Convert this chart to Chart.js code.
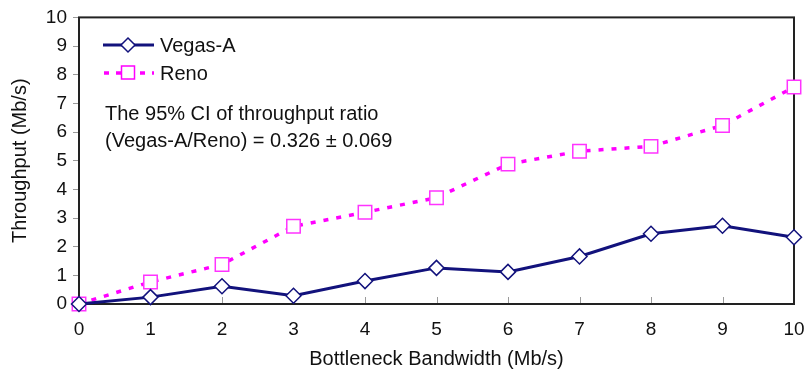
<!DOCTYPE html>
<html>
<head>
<meta charset="utf-8">
<script src="https://cdn.jsdelivr.net/npm/chart.js@4.4.0/dist/chart.umd.min.js"></script>
<style>
  html, body { margin: 0; padding: 0; background: #fff; }
  #wrap { width: 808px; height: 373px; }
</style>
</head>
<body>
<div id="wrap"><canvas id="tput_chart" width="808" height="373"></canvas></div>
<script>
// bandwidth (Mb/s) on the x axis
var bandwidth = [0, 1, 2, 3, 4, 5, 6, 7, 8, 9, 10];
// throughput (Mb/s)
var vegasA = [0, 0.24, 0.62, 0.29, 0.80, 1.26, 1.12, 1.66, 2.45, 2.73, 2.33];
var reno = [0, 0.77, 1.38, 2.71, 3.20, 3.71, 4.88, 5.33, 5.50, 6.23, 7.57];
var seriesNames = ['Vegas-A', 'Reno'];
var noteLines = ['The 95% CI of throughput ratio', '(Vegas-A/Reno) = 0.326 \u00b1 0.069'];

var NAVY = '#12127c';
var MAGENTA = '#ff00ff';
var FONT = "'Liberation Sans', Arial, sans-serif";

function toPoints(ys) {
    return bandwidth.map(function (x, i) { return { x: x, y: ys[i] }; });
}

// frame, inner x ticks, legend and the CI note
var framePlugin = {
    id: 'frame',
    beforeDatasetsDraw: function (chart) {
        var ctx = chart.ctx, a = chart.chartArea, xs = chart.scales.x;
        ctx.save();
        ctx.strokeStyle = '#9a9a9a';
        ctx.lineWidth = 1;
        bandwidth.forEach(function (v) {
            var px = Math.round(xs.getPixelForValue(v)) + 0.5;
            ctx.beginPath();
            ctx.moveTo(px, a.bottom);
            ctx.lineTo(px, a.bottom - 7);
            ctx.stroke();
        });
        ctx.strokeStyle = '#222';
        ctx.lineWidth = 2;
        ctx.strokeRect(a.left, a.top, a.right - a.left, a.bottom - a.top);
        ctx.restore();
    },
    afterDraw: function (chart) {
        var ctx = chart.ctx;
        ctx.save();
        // Vegas-A legend entry
        ctx.strokeStyle = NAVY;
        ctx.lineWidth = 3;
        ctx.beginPath();
        ctx.moveTo(103, 45);
        ctx.lineTo(154, 45);
        ctx.stroke();
        ctx.fillStyle = '#fff';
        ctx.lineWidth = 1.5;
        ctx.beginPath();
        ctx.moveTo(128, 38);
        ctx.lineTo(135, 45);
        ctx.lineTo(128, 52);
        ctx.lineTo(121, 45);
        ctx.closePath();
        ctx.fill();
        ctx.stroke();
        // Reno legend entry
        ctx.strokeStyle = MAGENTA;
        ctx.lineWidth = 3.5;
        ctx.setLineDash([5, 7]);
        ctx.beginPath();
        ctx.moveTo(104, 73);
        ctx.lineTo(154, 73);
        ctx.stroke();
        ctx.setLineDash([]);
        ctx.lineWidth = 1.5;
        ctx.fillStyle = '#fff';
        ctx.fillRect(121.5, 66, 13, 13);
        ctx.strokeRect(121.5, 66, 13, 13);

        ctx.fillStyle = '#111';
        ctx.font = '20px ' + FONT;
        ctx.textBaseline = 'middle';
        ctx.textAlign = 'left';
        ctx.fillText(seriesNames[0], 160, 46);
        ctx.fillText(seriesNames[1], 160, 74);
        ctx.fillText(noteLines[0], 105, 114);
        ctx.fillText(noteLines[1], 105, 141);
        ctx.restore();
    }
};

var ctx = document.getElementById('tput_chart').getContext('2d');

var tputChart = new Chart(ctx, {
    type: 'line',
    data: {
        datasets: [{
            label: seriesNames[0],
            data: toPoints(vegasA),
            borderColor: NAVY,
            borderWidth: 3,
            pointStyle: 'rectRot',
            pointRadius: 7.5,
            pointBorderWidth: 1.5,
            pointBackgroundColor: '#fff',
            pointBorderColor: NAVY,
            tension: 0,
            clip: false,
            order: 1
        }, {
            label: seriesNames[1],
            data: toPoints(reno),
            borderColor: MAGENTA,
            borderWidth: 3.5,
            borderDash: [5, 8],
            pointStyle: 'rect',
            pointRadius: 9.5,
            pointBorderWidth: 1.5,
            pointBackgroundColor: '#fff',
            pointBorderColor: '#ff33ff',
            tension: 0,
            clip: false,
            order: 2
        }]
    },
    options: {
        responsive: false,
        animation: false,
        devicePixelRatio: 1,
        layout: { padding: { top: 15, right: 14, bottom: 0, left: 0 } },
        plugins: {
            legend: { display: false },
            tooltip: { enabled: false }
        },
        scales: {
            x: {
                type: 'linear',
                min: 0,
                max: 10,
                afterFit: function (scale) {
                    scale.height = 69;
                    scale.paddingLeft = 0;
                    scale.paddingRight = 0;
                },
                ticks: {
                    stepSize: 1,
                    padding: 6,
                    color: '#111',
                    font: { family: FONT, size: 19 }
                },
                grid: { display: false },
                border: { display: false },
                title: {
                    display: true,
                    text: 'Bottleneck Bandwidth (Mb/s)',
                    color: '#111',
                    font: { family: FONT, size: 20 },
                    padding: { top: 0, bottom: 2 }
                }
            },
            y: {
                min: 0,
                max: 10,
                afterFit: function (scale) { scale.width = 79; },
                ticks: {
                    stepSize: 1,
                    padding: 6,
                    color: '#111',
                    font: { family: FONT, size: 19 }
                },
                grid: {
                    drawOnChartArea: false,
                    drawTicks: true,
                    tickLength: 6,
                    color: '#9a9a9a'
                },
                border: { display: false },
                title: {
                    display: true,
                    text: 'Throughput (Mb/s)',
                    color: '#111',
                    font: { family: FONT, size: 20 },
                    padding: 8
                }
            }
        }
    },
    plugins: [framePlugin]
});
</script>
</body>
</html>
